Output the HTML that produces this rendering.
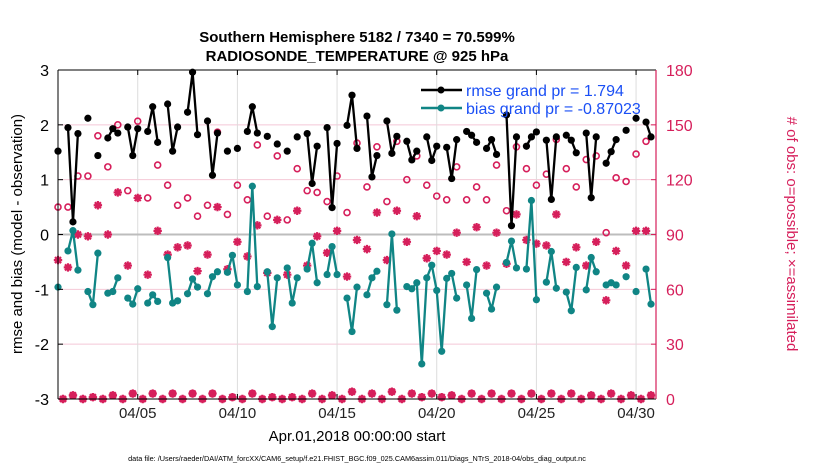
<!DOCTYPE html>
<html><head><meta charset="utf-8"><style>
html,body{margin:0;padding:0;background:#fff;}
svg{display:block;font-family:"Liberation Sans",sans-serif;}
</style></head><body>
<svg id="chart" width="830" height="470" viewBox="0 0 830 470" xmlns="http://www.w3.org/2000/svg">
<rect x="0" y="0" width="830" height="470" fill="#fff"/>
<text x="357" y="42" font-size="15" font-weight="bold" text-anchor="middle">Southern Hemisphere 5182 / 7340 = 70.599%</text>
<text x="357" y="61" font-size="15" font-weight="bold" text-anchor="middle">RADIOSONDE_TEMPERATURE @ 925 hPa</text>
<g id="grid"></g>
<g id="marks"></g>
<g id="axes"></g>
<text transform="translate(22,234) rotate(-90)" font-size="15" text-anchor="middle">rmse and bias (model - observation)</text>
<text transform="translate(787,234) rotate(90)" font-size="15" text-anchor="middle" fill="#d61f5b"># of obs: o=possible; ×=assimilated</text>
<text x="357" y="441" font-size="15" text-anchor="middle">Apr.01,2018 00:00:00 start</text>
<text x="357" y="461" font-size="7.3" text-anchor="middle">data file: /Users/raeder/DAI/ATM_forcXX/CAM6_setup/f.e21.FHIST_BGC.f09_025.CAM6assim.011/Diags_NTrS_2018-04/obs_diag_output.nc</text>
<g>
  <line x1="421" y1="90" x2="462" y2="90" stroke="#000" stroke-width="2.5"/>
  <circle cx="441" cy="90" r="3.5" fill="#000"/>
  <text x="466" y="96" font-size="16" fill="#1a4ff5">rmse grand pr = 1.794</text>
  <line x1="421" y1="108" x2="462" y2="108" stroke="#108585" stroke-width="2.5"/>
  <circle cx="441" cy="108" r="3.5" fill="#108585"/>
  <text x="466" y="114" font-size="16" fill="#1a4ff5">bias grand pr = -0.87023</text>
</g>
</svg>
<script>
const xTickLabels=["04/05","04/10","04/15","04/20","04/25","04/30"];
const xTickDays=[4,9,14,19,24,29];
const yLeftTicks=[-3,-2,-1,0,1,2,3];
const yRightTicks=[0,30,60,90,120,150,180];
const rmseSlots=[0,2,3,4,6,8,10,11,12,14,15,16,18,19,20,22,23,24,26,27,28,30,31,32,34,36,38,39,40,42,44,46,48,50,51,52,54,55,56,58,59,60,62,63,64,66,67,68,70,71,72,74,75,76,78,79,80,82,83,84,86,87,88,90,91,92,94,95,96,98,99,100,102,103,104,106,107,108,110,111,112,114,116,118,119];
const rmseVals=[1.52,1.95,0.23,1.84,2.12,1.44,1.76,1.93,1.85,1.96,1.44,1.93,1.88,2.33,1.68,2.38,1.52,1.96,2.23,2.96,1.82,2.07,1.08,1.85,1.52,1.57,1.88,2.33,1.85,1.79,1.65,1.52,1.78,1.84,0.93,1.61,1.95,0.49,1.66,1.99,2.54,1.57,2.16,1.05,1.44,2.07,1.48,1.79,1.70,1.36,1.52,1.78,1.35,1.61,1.59,1.02,1.73,1.88,1.81,1.68,1.57,1.73,1.46,2.18,0.16,1.78,1.61,1.78,1.87,1.72,0.64,1.78,1.81,1.72,1.49,1.85,0.67,1.78,1.30,1.51,1.73,1.90,2.12,2.05,1.78];
const biasSlots=[0,2,3,4,6,7,8,10,11,12,14,15,16,18,19,20,22,23,24,26,27,28,30,31,32,34,35,36,38,39,40,42,43,44,46,47,48,50,51,52,54,55,56,58,59,60,62,63,64,66,67,68,70,71,72,73,74,75,76,77,78,79,80,82,83,84,86,87,88,90,91,92,94,95,96,98,99,100,102,103,104,106,107,108,110,111,112,114,116,118,119];
const biasVals=[-0.96,-0.30,0.07,-0.65,-1.04,-1.28,-0.34,-1.07,-1.04,-0.79,-1.16,-1.27,-0.99,-1.25,-1.10,-1.22,-0.42,-1.25,-1.21,-1.08,-0.81,-0.96,-1.08,-0.77,-0.68,-0.69,-0.38,-0.92,-1.04,0.88,-0.95,-0.68,-1.68,-0.79,-0.61,-1.25,-0.79,-0.63,-0.16,-0.88,-0.73,-0.22,-0.73,-1.16,-1.77,-0.96,-1.10,-0.79,-0.67,-1.28,0.01,-1.38,-0.95,-0.99,-0.88,-2.36,-0.79,-0.56,-1.02,-2.13,-0.80,-0.71,-1.16,-0.92,-1.53,-0.64,-1.07,-1.36,-0.96,-0.51,-0.12,-0.61,-0.63,0.62,-1.19,-0.87,-0.31,-0.98,-1.05,-1.39,-0.60,-1.01,-0.42,-0.68,-0.92,-0.88,-0.92,-0.77,-1.04,-0.63,-1.27];
const possibleCounts=[105,0,105,2,122,0,122,1,144,0,127,2,150,0,114,3,152,0,110,3,128,0,117,3,106,0,110,3,100,0,
106,3,146,0,101,1,117,0,109,3,139,0,100,1,133,0,98,1,126,0,114,3,113,0,108,2,122,0,102,4,
140,0,116,3,138,0,108,4,141,0,120,3,133,1,117,3,111,1,109,2,127,0,109,3,116,0,109,3,128,0,
103,3,138,0,126,3,117,0,123,3,142,0,126,3,116,0,131,2,133,0,91,3,121,0,119,2,134,0,141,2];
const assimCounts=[76,0,72,2,90,0,89,1,106,0,90,2,113,0,73,3,110,0,68,3,92,0,79,3,83,0,84,3,70,0,
79,3,105,0,71,1,86,0,78,3,95,0,69,1,98,0,68,1,103,0,73,3,89,0,80,2,92,0,67,4,
87,0,82,3,102,0,76,4,103,0,86,3,100,1,77,3,81,1,79,2,91,0,75,3,94,0,73,3,91,0,
74,3,101,0,87,3,85,0,84,3,101,0,75,3,83,0,73,2,86,0,54,3,81,0,73,2,92,0,92,2];

const NS="http://www.w3.org/2000/svg";
const X0=58,X1=656,Y0=70,Y1=399,DAYS=30,RED="#d61f5b",TEAL="#108585";
function xDay(d){return X0+(d/DAYS)*(X1-X0);}
function xSlot(s){return xDay(s/4);}
function yL(v){return Y1-(v+3)/6*(Y1-Y0);}
function yR(c){return Y1-c/180*(Y1-Y0);}
function mk(tag,attrs,parent){const e=document.createElementNS(NS,tag);for(const k in attrs)e.setAttribute(k,attrs[k]);parent.appendChild(e);return e;}
const grid=document.getElementById('grid'),marks=document.getElementById('marks'),axes=document.getElementById('axes');

yLeftTicks.forEach(v=>{
  const y=yL(v);
  if(v!==3&&v!==-3){const g=mk('line',{x1:X0,x2:X1,y1:y,y2:y,stroke:'#f4c8d6','stroke-width':1},grid);
  
  }
  const t=mk('text',{x:X0-9,y:y+6,'font-size':16,'text-anchor':'end'},axes);t.textContent=v;
  
  
  mk('line',{x1:X0,x2:X0+5,y1:y,y2:y,stroke:'#000'},axes);
});
xTickDays.forEach((d,i)=>{
  const x=xDay(d);
  const g=mk('line',{x1:x,x2:x,y1:Y0,y2:Y1,stroke:'#dcdcdc','stroke-width':1},grid);
  
  
  const t=mk('text',{x:x,y:418,'font-size':15,'text-anchor':'middle',fill:'#222'},axes);t.textContent=xTickLabels[i];
  
  
  mk('line',{x1:x,x2:x,y1:Y1,y2:Y1-5,stroke:'#000'},axes);
  mk('line',{x1:x,x2:x,y1:Y0,y2:Y0+5,stroke:'#000'},axes);
});
const zl=mk('line',{x1:X0,x2:X1,y1:yL(0),y2:yL(0),stroke:'#bdbdbd','stroke-width':2},grid);


yRightTicks.forEach(c=>{
  const y=yR(c);
  const t=mk('text',{x:X1+10,y:y+6,'font-size':16,fill:RED},axes);t.textContent=c;
  
  
  mk('line',{x1:X1,x2:X1-5,y1:y,y2:y,stroke:RED},axes);
});
mk('line',{x1:X0,x2:X1,y1:Y0,y2:Y0,stroke:'#000'},axes);
mk('line',{x1:X0,x2:X1,y1:Y1,y2:Y1,stroke:'#000'},axes);
mk('line',{x1:X0,x2:X0,y1:Y0,y2:Y1,stroke:'#000'},axes);
mk('line',{x1:X1,x2:X1,y1:Y0,y2:Y1,stroke:RED,'stroke-width':1.2},axes);

// counts: circles (possible) and asterisks (assimilated)
possibleCounts.forEach((c,s)=>{
  const e=mk('circle',{cx:xSlot(s),cy:yR(c),r:3,fill:'none',stroke:RED,'stroke-width':1.6},marks);
  
  
});
assimCounts.forEach((c,s)=>{
  const x=xSlot(s),y=yR(c),r=4.2,d=r*0.72;
  const g=mk('path',{d:`M${x-r},${y}H${x+r}M${x},${y-r}V${y+r}M${x-d},${y-d}L${x+d},${y+d}M${x-d},${y+d}L${x+d},${y-d}`,stroke:RED,'stroke-width':2.2,fill:'none'},marks);
  
  
});
function series(slots,vals,color,name){
  let d='';
  slots.forEach((s,i)=>{
    const x=xSlot(s),y=yL(vals[i]);
    d+=(i>0&&s-slots[i-1]===1?'L':'M')+x.toFixed(1)+','+y.toFixed(1);
  });
  const p=mk('path',{d:d,stroke:color,'stroke-width':2.3,fill:'none','stroke-linejoin':'round'},marks);
  
  
  slots.forEach((s,i)=>{
    const c=mk('circle',{cx:xSlot(s),cy:yL(vals[i]),r:3.6,fill:color},marks);
    
    
  });
}
series(biasSlots,biasVals,TEAL,'bias');
series(rmseSlots,rmseVals,'#000','rmse');
</script>
</body></html>
